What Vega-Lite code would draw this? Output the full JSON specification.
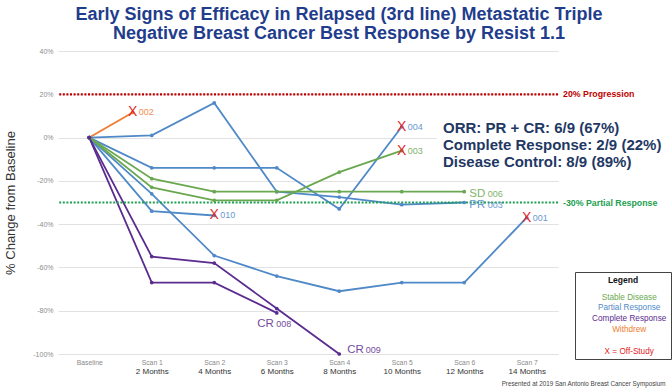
{
  "$schema": "https://vega.github.io/schema/vega-lite/v6.json",
  "width": 500,
  "height": 303,
  "autosize": "none",
  "padding": {"left": 58, "top": 51, "right": 114, "bottom": 35},
  "background": "white",
  "config": {"font": "Liberation Sans", "view": {"stroke": null}},
  "title": {
    "text": ["Early Signs of Efficacy in Relapsed (3rd line) Metastatic Triple", "Negative Breast Cancer Best Response by Resist 1.1"],
    "fontSize": 18, "fontWeight": "bold", "color": "#1f3d8c", "lineHeight": 19,
    "anchor": "middle", "frame": "group", "dx": 31, "offset": 4
  },
  "datasets": {
    "series": [
      {"s": "002", "cat": "Withdrew", "x": 0, "pct": 0},
      {"s": "002", "cat": "Withdrew", "x": 0.695, "pct": 11.6},
      {"s": "003PR", "cat": "Partial Response", "x": 0, "pct": 0},
      {"s": "003PR", "cat": "Partial Response", "x": 1, "pct": 1},
      {"s": "003PR", "cat": "Partial Response", "x": 2, "pct": 16},
      {"s": "003PR", "cat": "Partial Response", "x": 3, "pct": -25},
      {"s": "003PR", "cat": "Partial Response", "x": 4, "pct": -27.5},
      {"s": "003PR", "cat": "Partial Response", "x": 5, "pct": -31},
      {"s": "003PR", "cat": "Partial Response", "x": 6, "pct": -30},
      {"s": "004", "cat": "Partial Response", "x": 0, "pct": 0},
      {"s": "004", "cat": "Partial Response", "x": 1, "pct": -14},
      {"s": "004", "cat": "Partial Response", "x": 2, "pct": -14},
      {"s": "004", "cat": "Partial Response", "x": 3, "pct": -14},
      {"s": "004", "cat": "Partial Response", "x": 4, "pct": -33},
      {"s": "004", "cat": "Partial Response", "x": 5, "pct": 5},
      {"s": "010", "cat": "Partial Response", "x": 0, "pct": 0},
      {"s": "010", "cat": "Partial Response", "x": 1, "pct": -34},
      {"s": "010", "cat": "Partial Response", "x": 2, "pct": -36},
      {"s": "001", "cat": "Partial Response", "x": 0, "pct": 0},
      {"s": "001", "cat": "Partial Response", "x": 1, "pct": -26},
      {"s": "001", "cat": "Partial Response", "x": 2, "pct": -54.5},
      {"s": "001", "cat": "Partial Response", "x": 3, "pct": -64},
      {"s": "001", "cat": "Partial Response", "x": 4, "pct": -71},
      {"s": "001", "cat": "Partial Response", "x": 5, "pct": -67},
      {"s": "001", "cat": "Partial Response", "x": 6, "pct": -67},
      {"s": "001", "cat": "Partial Response", "x": 7, "pct": -37},
      {"s": "003SD", "cat": "Stable Disease", "x": 0, "pct": 0},
      {"s": "003SD", "cat": "Stable Disease", "x": 1, "pct": -23},
      {"s": "003SD", "cat": "Stable Disease", "x": 2, "pct": -29},
      {"s": "003SD", "cat": "Stable Disease", "x": 3, "pct": -29},
      {"s": "003SD", "cat": "Stable Disease", "x": 4, "pct": -16},
      {"s": "003SD", "cat": "Stable Disease", "x": 5, "pct": -6},
      {"s": "006", "cat": "Stable Disease", "x": 0, "pct": 0},
      {"s": "006", "cat": "Stable Disease", "x": 1, "pct": -19},
      {"s": "006", "cat": "Stable Disease", "x": 2, "pct": -25},
      {"s": "006", "cat": "Stable Disease", "x": 3, "pct": -25},
      {"s": "006", "cat": "Stable Disease", "x": 4, "pct": -25},
      {"s": "006", "cat": "Stable Disease", "x": 5, "pct": -25},
      {"s": "006", "cat": "Stable Disease", "x": 6, "pct": -25},
      {"s": "008", "cat": "Complete Response", "x": 0, "pct": 0},
      {"s": "008", "cat": "Complete Response", "x": 1, "pct": -67},
      {"s": "008", "cat": "Complete Response", "x": 2, "pct": -67},
      {"s": "008", "cat": "Complete Response", "x": 3, "pct": -81},
      {"s": "009", "cat": "Complete Response", "x": 0, "pct": 0},
      {"s": "009", "cat": "Complete Response", "x": 1, "pct": -55},
      {"s": "009", "cat": "Complete Response", "x": 2, "pct": -58},
      {"s": "009", "cat": "Complete Response", "x": 3, "pct": -79},
      {"s": "009", "cat": "Complete Response", "x": 4, "pct": -100}
    ],
    "offstudy": [
      {"id": "002", "cat": "Withdrew", "x": 0.695, "pct": 11.6},
      {"id": "010", "cat": "Partial Response", "x": 2, "pct": -36},
      {"id": "004", "cat": "Partial Response", "x": 5, "pct": 5},
      {"id": "003", "cat": "Stable Disease", "x": 5, "pct": -6},
      {"id": "001", "cat": "Partial Response", "x": 7, "pct": -37}
    ],
    "best": [
      {"tag": "SD", "id": "006", "grp": "right", "cat": "Stable Disease", "x": 6, "pct": -25},
      {"tag": "PR", "id": "003", "grp": "right", "cat": "Partial Response", "x": 6, "pct": -30},
      {"tag": "CR", "id": "008", "grp": "below", "cat": "Complete Response", "x": 3, "pct": -81},
      {"tag": "CR", "id": "009", "grp": "after", "cat": "Complete Response", "x": 4, "pct": -100}
    ],
    "refs": [
      {"pct": 20, "label": "20% Progression"},
      {"pct": -30, "label": "-30% Partial Response"}
    ],
    "annot": [
      {"t": "ORR: PR + CR: 6/9 (67%)", "x": 5.66, "pct": 4.3},
      {"t": "Complete Response: 2/9 (22%)", "x": 5.66, "pct": -3.6},
      {"t": "Disease Control: 8/9 (89%)", "x": 5.66, "pct": -11.4}
    ]
  },
  "layer": [
    {
      "data": {"name": "series"},
      "mark": {"type": "line", "strokeWidth": 1.8},
      "encoding": {
        "x": {
          "field": "x", "type": "quantitative",
          "scale": {"domain": [-0.5, 7.5], "nice": false, "zero": false},
          "axis": {
            "orient": "bottom",
            "values": [0, 1, 2, 3, 4, 5, 6, 7],
            "labelExpr": "['Baseline','Scan 1','Scan 2','Scan 3','Scan 4','Scan 5','Scan 6','Scan 7'][datum.value]",
            "labelFontSize": 6.8, "labelColor": "#8a8a8a", "labelPadding": 5,
            "ticks": false, "domain": false, "grid": false, "title": null
          }
        },
        "y": {
          "field": "pct", "type": "quantitative",
          "scale": {"domain": [-100, 40], "nice": false, "zero": false},
          "axis": {
            "values": [-100, -80, -60, -40, -20, 0, 20, 40],
            "labelExpr": "datum.value + '%'",
            "labelFontSize": 7, "labelColor": "#8c8c8c", "labelPadding": 5,
            "ticks": false, "domain": false, "grid": true, "gridColor": "#e2e2e2", "gridWidth": 1.2,
            "title": "% Change from Baseline", "titleFontSize": 13, "titleFontWeight": "normal",
            "titleColor": "#333333", "titlePadding": 15
          }
        },
        "color": {
          "field": "cat", "type": "nominal",
          "scale": {
            "domain": ["Stable Disease", "Partial Response", "Complete Response", "Withdrew", " ", "X = Off-Study"],
            "range": ["#6aa84f", "#4f89c7", "#5b2c8f", "#ed7d31", "#ffffff", "#e0201b"]
          },
          "legend": {
            "orient": "none", "legendX": 517, "legendY": 221,
            "title": "Legend", "titleFontSize": 8.5, "titleFontWeight": "bold", "titleColor": "#111111",
            "titleAnchor": "middle", "titlePadding": 9,
            "labelFontSize": 8.2, "labelAlign": "center", "labelOffset": 42, "labelLimit": 200,
            "symbolSize": 0, "symbolOpacity": 0, "symbolStrokeWidth": 0,
            "rowPadding": 1.8, "padding": 4, "strokeColor": "#444444", "fillColor": "white",
            "values": ["Stable Disease", "Partial Response", "Complete Response", "Withdrew", " ", "X = Off-Study"],
            "encode": {"labels": {"update": {"fill": {"scale": "color", "field": "value"}}}}
          }
        },
        "detail": {"field": "s", "type": "nominal"}
      }
    },
    {
      "data": {"values": [{}]},
      "mark": {"type": "rect", "color": "white"},
      "encoding": {
        "x": {"datum": 5.56, "type": "quantitative", "axis": null},
        "x2": {"datum": 7.5},
        "y": {"datum": 3, "type": "quantitative"},
        "y2": {"datum": -3}
      }
    },
    {
      "data": {"values": [{}]},
      "mark": {"type": "rule", "color": "#c00000", "strokeDash": [2, 1.6], "strokeWidth": 2.2},
      "encoding": {"y": {"datum": 20, "type": "quantitative"}}
    },
    {
      "data": {"values": [{}]},
      "mark": {"type": "rule", "color": "#1fa055", "strokeDash": [2, 1.6], "strokeWidth": 2.2},
      "encoding": {"y": {"datum": -30, "type": "quantitative"}}
    },
    {
      "data": {"name": "series"},
      "mark": {"type": "circle", "size": 14, "opacity": 1},
      "encoding": {
        "x": {
          "field": "x", "type": "quantitative",
          "axis": {
            "orient": "bottom",
            "values": [0, 1, 2, 3, 4, 5, 6, 7],
            "labelExpr": "['','2 Months','4 Months','6 Months','8 Months','10 Months','12 Months','14 Months'][datum.value]",
            "labelFontSize": 8, "labelColor": "#333333", "labelPadding": 13,
            "ticks": false, "domain": false, "grid": false,
            "title": "Presented at 2019 San Antonio Breast Cancer Symposium",
            "titleFontSize": 6.3, "titleFontWeight": "normal", "titleColor": "#444444",
            "titleAlign": "right", "titleAnchor": "end", "titleX": 607, "titleY": 26, "titleBaseline": "top"
          }
        },
        "y": {"field": "pct", "type": "quantitative"},
        "color": {"field": "cat", "type": "nominal"}
      }
    },
    {
      "data": {"name": "offstudy"},
      "mark": {"type": "text", "text": "X", "fontSize": 14, "color": "#e3262a", "align": "center", "baseline": "middle"},
      "encoding": {
        "x": {"field": "x", "type": "quantitative", "axis": null},
        "y": {"field": "pct", "type": "quantitative"}
      }
    },
    {
      "data": {"name": "offstudy"},
      "mark": {"type": "text", "fontSize": 9, "align": "left", "baseline": "middle", "dx": 6, "opacity": 0.85},
      "encoding": {
        "x": {"field": "x", "type": "quantitative", "axis": null},
        "y": {"field": "pct", "type": "quantitative"},
        "text": {"field": "id"},
        "color": {"field": "cat", "type": "nominal"}
      }
    },
    {
      "data": {"name": "best"},
      "transform": [{"filter": "datum.grp == 'right'"}],
      "mark": {"type": "text", "fontSize": 11.5, "align": "left", "baseline": "alphabetic", "dx": 5, "dy": 5.5, "opacity": 0.85},
      "encoding": {
        "x": {"field": "x", "type": "quantitative", "axis": null},
        "y": {"field": "pct", "type": "quantitative"},
        "text": {"field": "tag"},
        "color": {"field": "cat", "type": "nominal"}
      }
    },
    {
      "data": {"name": "best"},
      "transform": [{"filter": "datum.grp == 'right'"}],
      "mark": {"type": "text", "fontSize": 9, "align": "left", "baseline": "alphabetic", "dx": 23.5, "dy": 5.5, "opacity": 0.85},
      "encoding": {
        "x": {"field": "x", "type": "quantitative", "axis": null},
        "y": {"field": "pct", "type": "quantitative"},
        "text": {"field": "id"},
        "color": {"field": "cat", "type": "nominal"}
      }
    },
    {
      "data": {"name": "best"},
      "transform": [{"filter": "datum.grp == 'below'"}],
      "mark": {"type": "text", "fontSize": 11.5, "align": "right", "baseline": "alphabetic", "dx": -3, "dy": 14, "opacity": 0.85},
      "encoding": {
        "x": {"field": "x", "type": "quantitative", "axis": null},
        "y": {"field": "pct", "type": "quantitative"},
        "text": {"field": "tag"},
        "color": {"field": "cat", "type": "nominal"}
      }
    },
    {
      "data": {"name": "best"},
      "transform": [{"filter": "datum.grp == 'below'"}],
      "mark": {"type": "text", "fontSize": 9, "align": "left", "baseline": "alphabetic", "dx": -0.5, "dy": 14, "opacity": 0.85},
      "encoding": {
        "x": {"field": "x", "type": "quantitative", "axis": null},
        "y": {"field": "pct", "type": "quantitative"},
        "text": {"field": "id"},
        "color": {"field": "cat", "type": "nominal"}
      }
    },
    {
      "data": {"name": "best"},
      "transform": [{"filter": "datum.grp == 'after'"}],
      "mark": {"type": "text", "fontSize": 11.5, "align": "left", "baseline": "alphabetic", "dx": 8, "dy": -1, "opacity": 0.85},
      "encoding": {
        "x": {"field": "x", "type": "quantitative", "axis": null},
        "y": {"field": "pct", "type": "quantitative"},
        "text": {"field": "tag"},
        "color": {"field": "cat", "type": "nominal"}
      }
    },
    {
      "data": {"name": "best"},
      "transform": [{"filter": "datum.grp == 'after'"}],
      "mark": {"type": "text", "fontSize": 9, "align": "left", "baseline": "alphabetic", "dx": 26.5, "dy": -1, "opacity": 0.85},
      "encoding": {
        "x": {"field": "x", "type": "quantitative", "axis": null},
        "y": {"field": "pct", "type": "quantitative"},
        "text": {"field": "id"},
        "color": {"field": "cat", "type": "nominal"}
      }
    },
    {
      "data": {"name": "refs"},
      "mark": {"type": "text", "fontSize": 8.8, "fontWeight": "bold", "align": "left", "baseline": "middle", "dx": 5},
      "encoding": {
        "x": {"datum": 7.5, "type": "quantitative", "axis": null},
        "y": {"field": "pct", "type": "quantitative"},
        "text": {"field": "label"},
        "color": {"condition": {"test": "datum.pct > 0", "value": "#c00000"}, "value": "#22a050"}
      }
    },
    {
      "data": {"name": "annot"},
      "mark": {"type": "text", "fontSize": 15, "fontWeight": "bold", "align": "left", "baseline": "middle", "color": "#1f3864"},
      "encoding": {
        "x": {"field": "x", "type": "quantitative", "axis": null},
        "y": {"field": "pct", "type": "quantitative"},
        "text": {"field": "t"}
      }
    }
  ],
  "resolve": {"axis": {"x": "independent"}}
}
